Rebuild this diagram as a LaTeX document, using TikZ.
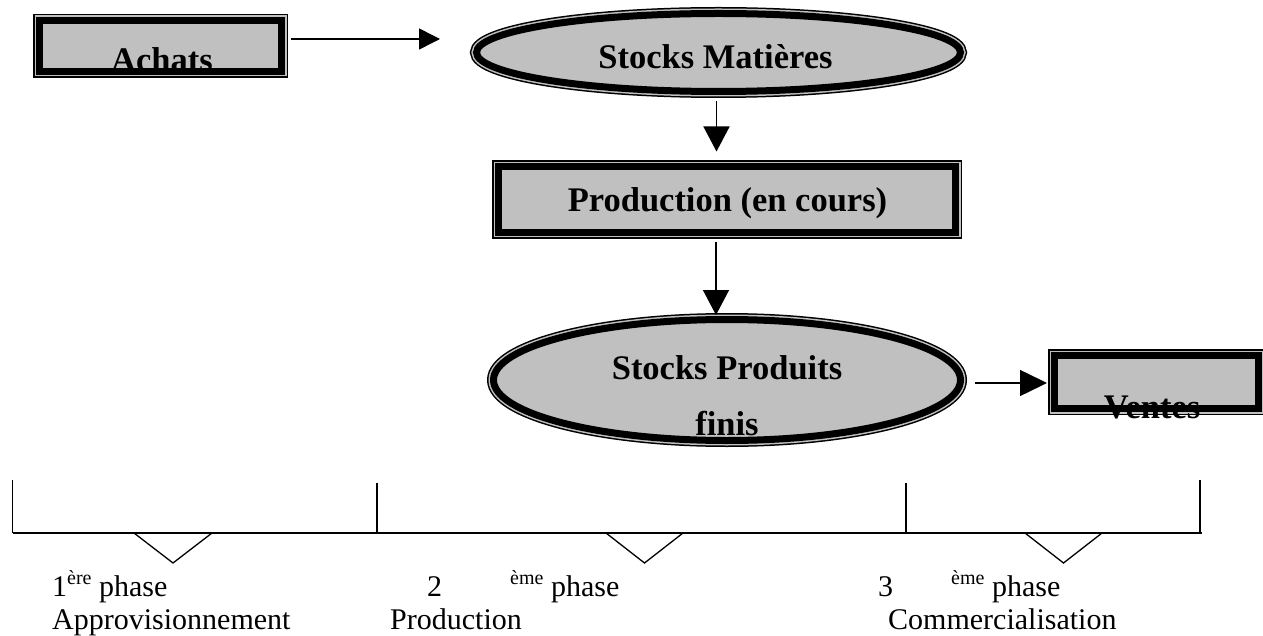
\documentclass[tikz,border=0pt]{standalone}
\usepackage{fontspec}
\setmainfont{Liberation Serif}
\usetikzlibrary{arrows.meta,shapes.geometric}
\definecolor{boxgray}{HTML}{C0C0C0}
\newcommand\supx[1]{\raisebox{12pt}{\fontsize{20}{20}\selectfont #1}}
\tikzset{
  frame/.style={draw=black, line width=7pt, fill=boxgray, inner sep=0pt,
    preaction={draw=black, line width=13pt},
    preaction={draw=boxgray, line width=10pt}},
  rbox/.style={frame, rectangle},
  ebox/.style={frame, ellipse},
  btxt/.style={anchor=base, inner sep=0pt, font=\fontsize{34.5}{40}\selectfont\bfseries},
  ntxt/.style={anchor=base west, inner sep=0pt, font=\fontsize{30}{36}\selectfont},
  conn/.style={line width=1.5pt},
  tl/.style={line width=1.3pt},
}
\begin{document}
\begin{tikzpicture}[x=1pt, y=-1pt]
\useasboundingbox (0,0) rectangle (1263,636);
% nodes
\node[rbox, minimum width=242pt, minimum height=51pt] (achats) at (160.5,46) {};
\node[ebox, minimum width=484pt, minimum height=78pt] (sm) at (718.5,52.5) {};
\node[rbox, minimum width=457pt, minimum height=65.5pt] (pc) at (727,199.75) {};
\node[ebox, minimum width=467pt, minimum height=121pt] (spf) at (727,380) {};
\node[rbox, minimum width=204pt, minimum height=53pt] (ventes) at (1156.5,382) {};
% texts
\node[btxt] (tachats) at (162,71.5) {Achats};
\node[btxt] (tsm) at (715.5,69) {Stocks Matières};
\node[btxt] (tpc) at (727.5,212) {Production (en cours)};
\node[btxt] (tspf1) at (727,379) {Stocks Produits};
\node[btxt] (tspf2) at (727,435) {finis};
\node[btxt] (tventes) at (1152,418) {Ventes};
% connectors
\draw[conn, -{Triangle[length=21pt,width=21pt]}, shorten <=6pt, shorten >=33pt]
  ([yshift=7pt]achats.east) -- ([yshift=7pt]achats.east -| sm.west);
\draw[conn, -{Triangle[length=25pt,width=26pt]}, shorten <=6pt, shorten >=12pt]
  ([xshift=-2pt]sm.south) -- ([xshift=-2pt]sm.south |- pc.north);
\draw[conn, -{Triangle[length=25pt,width=26pt]}, shorten <=6pt, shorten >=1pt]
  ([xshift=-11pt]pc.south) -- ([xshift=-11pt]pc.south |- spf.north);
\draw[conn, -{Triangle[length=27pt,width=26pt]}, shorten <=11pt, shorten >=4pt]
  ([yshift=-3pt]spf.east) -- ([yshift=-3pt]spf.east -| ventes.west);
% timeline
\draw[tl] (13,533) -- (1202,533);
\draw[tl] (12.7,480) -- (12.7,533);
\draw[tl] (377,483) -- (377,533);
\draw[tl] (906,483) -- (906,533);
\draw[tl] (1200,480) -- (1200,533);
\draw[tl, line join=miter] (134,533) -- (173,563) -- (212,533) -- cycle;
\draw[tl, line join=miter] (606,533) -- (644.5,563) -- (683,533) -- cycle;
\draw[tl, line join=miter] (1025,533) -- (1063.5,563) -- (1102,533) -- cycle;
% phase labels
\node[ntxt] (p1a) at (52,596) {1\supx{ère} phase};
\node[ntxt] (p1b) at (52,629) {Approvisionnement};
\node[ntxt] (p2a) at (427,596) {2};
\node[ntxt] (p2b) at (510,596) {\supx{ème} phase};
\node[ntxt] (p2c) at (390,629) {Production};
\node[ntxt] (p3a) at (878,596) {3};
\node[ntxt] (p3b) at (951,596) {\supx{ème} phase};
\node[ntxt] (p3c) at (888,629) {Commercialisation};
\end{tikzpicture}
\end{document}
